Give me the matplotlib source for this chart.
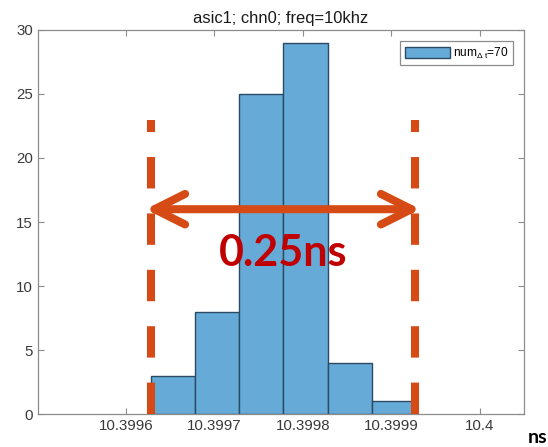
import numpy as np
import matplotlib
matplotlib.use("Agg")
import matplotlib.pyplot as plt

# Datos del histograma
bin_edges = [10.399628, 10.399678, 10.399728, 10.399778, 10.399828, 10.399878, 10.399928]
counts = [3, 8, 25, 29, 4, 1]

x_ticks = [10.3996, 10.3997, 10.3998, 10.3999, 10.4]
x_tick_labels = ["10.3996", "10.3997", "10.3998", "10.3999", "10.4"]
y_ticks = [0, 5, 10, 15, 20, 25, 30]

# Marcas del ancho (0.25ns)
marker_left = 10.399628
marker_right = 10.399927
marker_top = 23
arrow_y = 16
label_y = 12.6

plt.rcParams['font.family'] = ['Liberation Sans', 'DejaVu Sans']
plt.rcParams['mathtext.fontset'] = 'custom'
plt.rcParams['mathtext.rm'] = 'Liberation Sans'
plt.rcParams['mathtext.it'] = 'Liberation Sans'

fig = plt.figure(figsize=(5.48, 4.47), dpi=100)
ax = fig.add_axes([0.0688, 0.0738, 0.8872, 0.8591])

widths = np.diff(bin_edges)
ax.bar(bin_edges[:-1], counts, width=widths, align='edge',
       color='#66aad7', edgecolor='#2b4a63', linewidth=1.0,
       label=r'num$_{\mathrm{\Delta\ t}}$=70', zorder=2)

ax.set_xlim(10.3995, 10.40005)
ax.set_ylim(0, 30)
ax.set_xticks(x_ticks)
ax.set_xticklabels(x_tick_labels)
ax.set_yticks(y_ticks)
ax.tick_params(direction='in', top=True, right=True, length=4,
               color='#8c8c8c', labelcolor='#3a3a3a', labelsize=10.8)
for s in ax.spines.values():
    s.set_color('#8c8c8c')
    s.set_linewidth(0.9)

ax.set_title('asic1; chn0; freq=10khz', fontsize=11.9, color='#1a1a1a', pad=5)

leg = ax.legend(loc='upper right', fontsize=8.6, handlelength=3.75,
                handleheight=1.1, handletextpad=0.25, borderpad=0.4,
                borderaxespad=0.9, fancybox=False, framealpha=1)
leg.get_frame().set_edgecolor('#8c8c8c')
leg.get_frame().set_linewidth(0.9)

orange = '#d64a16'
for xm in [marker_left, marker_right]:
    ax.plot([xm, xm], [0, marker_top], color=orange, lw=5.8,
            ls=(0, (3.9, 3.1)), solid_capstyle='butt', dash_capstyle='butt',
            zorder=5, clip_on=False)

# la punta de la flecha queda un poco hacia dentro por el grosor de la línea
tip_pad = 0.000006
ax.annotate('', xy=(marker_right + tip_pad, arrow_y),
            xytext=(marker_left - tip_pad, arrow_y),
            arrowprops=dict(arrowstyle='<->,head_length=1.1,head_width=0.55',
                            color=orange, lw=5.8, mutation_scale=20,
                            shrinkA=0, shrinkB=0, capstyle='round',
                            joinstyle='round'),
            zorder=6)

ax.text((marker_left + marker_right) / 2, label_y, '0.25ns', color='#c00000',
        fontsize=31, fontweight='bold', family=['Lato', 'DejaVu Sans'],
        ha='center', va='center', zorder=7)

fig.text(0.999, 0.002, 'ns', fontsize=14, fontweight='bold',
         family=['Lato', 'DejaVu Sans'], ha='right', va='bottom')

fig.savefig('out.png', dpi=100)
